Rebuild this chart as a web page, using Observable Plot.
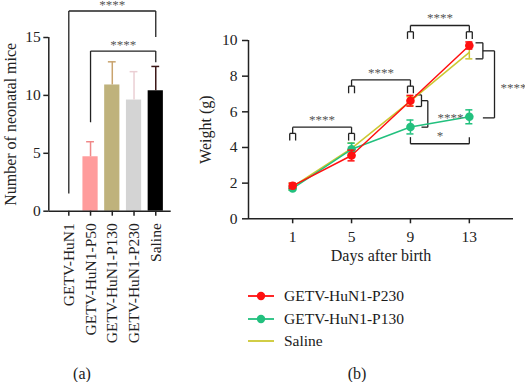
<!DOCTYPE html>
<html>
<head>
<meta charset="utf-8">
<script src="https://cdn.jsdelivr.net/npm/d3@7"></script>
<script src="https://cdn.jsdelivr.net/npm/@observablehq/plot@0.6"></script>
<style>
  body { margin: 0; background: #fff; }
  #wrap { position: relative; width: 525px; height: 382px; overflow: hidden; background: #fff;
          font-family: "Liberation Serif", serif; color: #1a1a1a; }
  #pa { position: absolute; left: 0; top: 0; width: 200px; height: 382px; }
  #pb { position: absolute; left: 200px; top: 0; width: 325px; height: 382px; }
  .cap { position: absolute; font-size: 16px; transform: translate(-50%, -50%); }
  #legend { position: absolute; left: 247px; top: 285px; font-size: 15.5px; }
  .row { display: flex; align-items: center; height: 22.5px; }
  .row svg { width: 28px; height: 12px; margin-right: 9px; }
</style>
</head>
<body>
<div id="wrap">
  <div id="pa"></div>
  <div id="pb"></div>
  <div id="legend"></div>
  <div class="cap" style="left:82px; top:374px">(a)</div>
  <div class="cap" style="left:357px; top:374px">(b)</div>
</div>
<script>
// ---------- Panel (a) data ----------
const groups = ["GETV-HuN1", "GETV-HuN1-P50", "GETV-HuN1-P130", "GETV-HuN1-P230", "Saline"];
const litterMean = [0, 4.7, 10.9, 9.6, 10.4];
const litterSd = [0, 1.3, 2.0, 2.45, 2.1];
const litterTicks = [0, 5, 10, 15];
// significance brackets (group index from/to, bracket height, leg ends)
const sigA = [
  {from: 0, to: 4, y: 17.29, fromEnd: 1.53, toEnd: 15.04, label: "****"},
  {from: 1, to: 4, y: 13.83, fromEnd: 7.68, toEnd: 12.87, label: "****"}
];

// ---------- Panel (b) data ----------
const days = [1, 5, 9, 13];
const seriesNames = ["GETV-HuN1-P230", "GETV-HuN1-P130", "Saline"];
const p230Mean = [1.85, 3.55, 6.62, 9.72];
const p230Sd = [0.15, 0.3, 0.3, 0.2];
const p130Mean = [1.7, 3.9, 5.15, 5.72];
const p130Sd = [0.1, 0.34, 0.39, 0.39];
const salineMean = [1.8, 3.95, 6.6, 9.33];
const salineSd = [0.2, 0.3, 0.25, 0.36];
const weightTicks = [0, 2, 4, 6, 8, 10];
const sigTop = [
  {from: 1, to: 5, y: 5.14, label: "****"},
  {from: 5, to: 9, y: 7.79, label: "****"},
  {from: 9, to: 13, y: 10.84, label: "****"}
];
const sigSide = [
  {day: 13, yTop: 9.87, yBot: 8.97, target: 5.66, label: "****"},
  {day: 9, yTop: 6.95, yBot: 6.3, target: 5.14, label: ""}
];
const sigBottom = [{from: 9, to: 13, y: 4.21, end: 4.58, label: "*"}];
const sigNote = [{day: 13, y: 5.8, label: "****"}];

// ---------- styles ----------
const barFill = ["#ffffff", "#FF9C9C", "#BFB27C", "#D4D4D4", "#000000"];
const barErr = ["#000000", "#F08888", "#C9A46E", "#EBCFD4", "#3A1616"];
const seriesColor = ["#FF1010", "#22C07E", "#CCC832"];
const axisColor = "#222";
const starColor = "#555";
const font = "Liberation Serif";

// ================= Panel (a) =================
const bars = groups.map((g, i) => ({i, group: g, mean: litterMean[i], sd: litterSd[i]}));
const xDomA = [-0.92, 4.71];
const marksA = [];
bars.forEach(d => {
  if (d.mean > 0) marksA.push(Plot.rect([d], {x1: d => d.i - 0.35, x2: d => d.i + 0.35, y1: 0, y2: "mean", fill: barFill[d.i]}));
  if (d.sd > 0) {
    marksA.push(Plot.ruleX([d], {x: "i", y1: "mean", y2: d => d.mean + d.sd, stroke: barErr[d.i], strokeWidth: 1.5}));
    marksA.push(Plot.ruleY([d], {x1: d => d.i - 0.18, x2: d => d.i + 0.18, y: d => d.mean + d.sd, stroke: barErr[d.i], strokeWidth: 1.5}));
  }
});
const segA = sigA.flatMap(b => [
  {x1: b.from, y1: b.y, x2: b.to, y2: b.y},
  {x1: b.from, y1: b.y, x2: b.from, y2: b.fromEnd},
  {x1: b.to, y1: b.y, x2: b.to, y2: b.toEnd}
]);

const plotA = Plot.plot({
  width: 200, height: 382,
  marginLeft: 48.3, marginRight: 29.3, marginTop: 37, marginBottom: 171.3,
  style: {fontFamily: font, fontSize: "15.5px", color: axisColor, overflow: "visible", background: "transparent"},
  x: {type: "linear", domain: xDomA},
  y: {domain: [0, 15]},
  marks: [
    ...marksA,
    Plot.ruleX([xDomA[0]], {stroke: axisColor, strokeWidth: 1.5}),
    Plot.ruleY([0], {stroke: axisColor, strokeWidth: 1.5}),
    Plot.axisY({ticks: litterTicks, tickSize: 5, tickPadding: 3, strokeWidth: 1.5, label: null}),
    Plot.axisX({ticks: bars.map(d => d.i), tickFormat: i => groups[i], tickRotate: -90, tickSize: 5, tickPadding: 7, strokeWidth: 1.5, label: null}),
    Plot.link(segA, {x1: "x1", y1: "y1", x2: "x2", y2: "y2", stroke: axisColor, strokeWidth: 1.3}),
    Plot.text(sigA, {x: d => (d.from + d.to) / 2, y: d => d.y + 0.72, text: "label", fontSize: 13, fill: starColor, dy: 2}),
    Plot.text(["Number of neonatal mice"], {text: d => d, frameAnchor: "left", textAnchor: "middle", rotate: -90, dx: -38, fontSize: 16})
  ]
});
document.getElementById("pa").appendChild(plotA);

// ================= Panel (b) =================
const mk = (means, sds) => days.map((day, k) => ({day, mean: means[k], sd: sds[k]}));
const series = [mk(p230Mean, p230Sd), mk(p130Mean, p130Sd), mk(salineMean, salineSd)];
const hasDots = [true, true, false];
const capW = 0.24;
const marksB = [];
[2, 1, 0].forEach(s => {
  const data = series[s], c = seriesColor[s];
  marksB.push(Plot.line(data, {x: "day", y: "mean", stroke: c, strokeWidth: 1.5}));
  marksB.push(Plot.ruleX(data, {x: "day", y1: d => d.mean - d.sd, y2: d => d.mean + d.sd, stroke: c, strokeWidth: 1.5}));
  marksB.push(Plot.ruleY(data, {x1: d => d.day - capW, x2: d => d.day + capW, y: d => d.mean + d.sd, stroke: c, strokeWidth: 1.5}));
  marksB.push(Plot.ruleY(data, {x1: d => d.day - capW, x2: d => d.day + capW, y: d => d.mean - d.sd, stroke: c, strokeWidth: 1.5}));
  if (hasDots[s]) marksB.push(Plot.dot(data, {x: "day", y: "mean", r: 4.3, fill: c, stroke: "none"}));
});

const LEG = 0.35, PI_H = 0.4, PI_W = 0.2;
const segB = [];
sigTop.forEach(b => {
  segB.push({x1: b.from, y1: b.y, x2: b.to, y2: b.y});
  [b.from, b.to].forEach(d => {
    const t = b.y - LEG, bot = t - PI_H;
    segB.push({x1: d, y1: b.y, x2: d, y2: t});
    segB.push({x1: d - PI_W, y1: t, x2: d + PI_W, y2: t});
    segB.push({x1: d - PI_W, y1: t, x2: d - PI_W, y2: bot});
    segB.push({x1: d + PI_W, y1: t, x2: d + PI_W, y2: bot});
  });
});
const sideOff = {13: [0.42, 0.92, 1.71], 9: [0.35, 0.75, 1.18]};
sigSide.forEach(b => {
  const [inn, mid, out] = sideOff[b.day];
  const m = (b.yTop + b.yBot) / 2;
  segB.push({x1: b.day + inn, y1: b.yTop, x2: b.day + mid, y2: b.yTop});
  segB.push({x1: b.day + mid, y1: b.yTop, x2: b.day + mid, y2: b.yBot});
  segB.push({x1: b.day + inn, y1: b.yBot, x2: b.day + mid, y2: b.yBot});
  segB.push({x1: b.day + mid, y1: m, x2: b.day + out, y2: m});
  segB.push({x1: b.day + out, y1: m, x2: b.day + out, y2: b.target});
  segB.push({x1: b.day + out, y1: b.target, x2: b.day + mid, y2: b.target});
});
sigBottom.forEach(b => {
  segB.push({x1: b.from, y1: b.y, x2: b.to, y2: b.y});
  segB.push({x1: b.from, y1: b.y, x2: b.from, y2: b.end});
  segB.push({x1: b.to, y1: b.y, x2: b.to, y2: b.end});
});

const plotB = Plot.plot({
  width: 325, height: 382,
  marginLeft: 48, marginRight: 12, marginTop: 40, marginBottom: 163.7,
  style: {fontFamily: font, fontSize: "15.5px", color: axisColor, overflow: "visible", background: "transparent"},
  x: {domain: [-2, 16]},
  y: {domain: [0, 10]},
  marks: [
    Plot.ruleX([-2], {stroke: axisColor, strokeWidth: 1.5}),
    Plot.ruleY([0], {stroke: axisColor, strokeWidth: 1.5}),
    Plot.axisY({ticks: weightTicks, tickSize: 6, tickPadding: 5, strokeWidth: 1.5, label: null}),
    Plot.axisX({ticks: days, tickSize: 5, tickPadding: 7, strokeWidth: 1.5, label: null}),
    Plot.link(segB, {x1: "x1", y1: "y1", x2: "x2", y2: "y2", stroke: axisColor, strokeWidth: 1.3}),
    ...marksB,
    Plot.text(sigTop, {x: d => (d.from + d.to) / 2, y: d => d.y + 0.52, text: "label", fontSize: 13, fill: starColor, dy: 2}),
    Plot.text(sigSide.filter(d => d.label), {x: d => d.day + 2.12, y: 7.47, text: "label", textAnchor: "start", fontSize: 13, fill: starColor, dy: 2}),
    Plot.text(sigBottom, {x: d => (d.from + d.to) / 2, y: d => d.end + 0.2, text: "label", fontSize: 13, fill: starColor, dy: 2}),
    Plot.text(sigNote, {x: d => d.day - 0.4, y: "y", text: "label", textAnchor: "end", fontSize: 13, fill: starColor, dy: 2}),
    Plot.text(["Days after birth"], {text: d => d, frameAnchor: "bottom", dy: 42, fontSize: 16}),
    Plot.text(["Weight (g)"], {text: d => d, frameAnchor: "left", textAnchor: "middle", rotate: -90, dx: -43, fontSize: 16})
  ]
});
document.getElementById("pb").appendChild(plotB);

// ---------- legend ----------
const legend = document.getElementById("legend");
seriesNames.forEach((name, s) => {
  const row = document.createElement("div");
  row.className = "row";
  const c = seriesColor[s];
  row.innerHTML = `<svg viewBox="0 0 28 12"><line x1="1" x2="27" y1="6" y2="6" stroke="${c}" stroke-width="1.8"/>` +
    (hasDots[s] ? `<circle cx="14" cy="6" r="4.2" fill="${c}"/>` : "") + `</svg><span>${name}</span>`;
  legend.appendChild(row);
});
</script>
</body>
</html>
